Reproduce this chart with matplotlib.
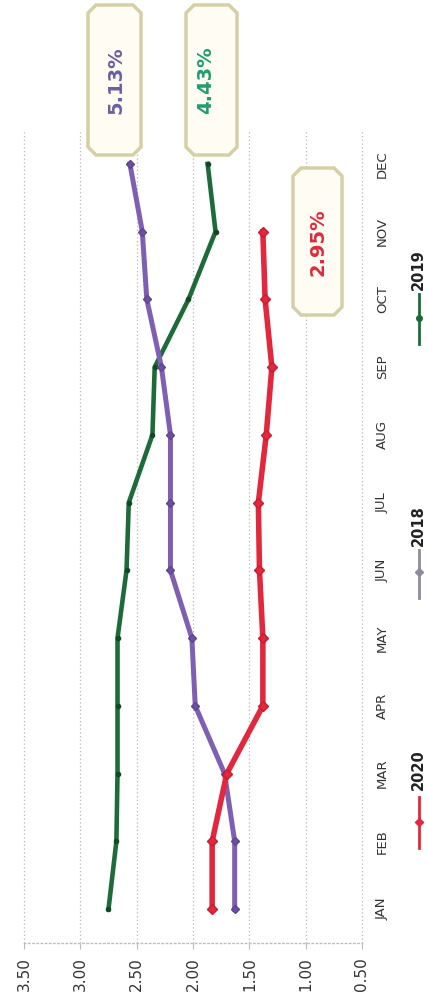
import matplotlib
matplotlib.use("Agg")
import matplotlib.pyplot as plt
from matplotlib.patches import Polygon
from matplotlib.lines import Line2D

# Monthly rates per year
months = ["JAN", "FEB", "MAR", "APR", "MAY", "JUN", "JUL", "AUG", "SEP", "OCT", "NOV", "DEC"]
rate_2018 = [1.63, 1.63, 1.72, 1.98, 2.01, 2.20, 2.20, 2.20, 2.28, 2.41, 2.45, 2.56]
rate_2019 = [2.75, 2.68, 2.67, 2.67, 2.67, 2.59, 2.57, 2.36, 2.34, 2.04, 1.80, 1.87]
rate_2020 = [1.83, 1.83, 1.70, 1.38, 1.38, 1.41, 1.42, 1.35, 1.30, 1.36, 1.38]
value_ticks = [3.50, 3.00, 2.50, 2.00, 1.50, 1.00, 0.50]
years = ["2020", "2018", "2019"]
year_totals = ["2.95%", "5.13%", "4.43%"]

C2018 = "#7f5fb3"
C2019 = "#1d6b38"
C2020 = "#e3283d"

W, H = 428, 1007
fig = plt.figure(figsize=(W / 100, H / 100), dpi=100)


def fx(x):
    return x / W


def fy(y):
    return 1 - y / H


# axes occupy the rotated plot region (values run right-to-left, months bottom-to-top)
ax = fig.add_axes([fx(24), fy(943), fx(362) - fx(24), fy(130) - fy(943)])
ax.set_xlim(3.5, 0.5)
ax.set_ylim(-0.5, 11.5)

ax.plot(rate_2019, range(len(rate_2019)), color=C2019, lw=3.3, marker="o",
        ms=3, mfc="#0f4a22", mec="#0f4a22", zorder=3)
ax.plot(rate_2018, range(len(rate_2018)), color=C2018, lw=3.6, marker="D",
        ms=4, mfc="#6c4fa3", mec="#5e4690", zorder=4)
ax.plot(rate_2020, range(len(rate_2020)), color=C2020, lw=4.0, marker="D",
        ms=5, mfc=C2020, mec="#c81c30", zorder=5)

ax.set_xticks(value_ticks)
ax.set_xticklabels([f"{v:.2f}" for v in value_ticks], rotation=90,
                   fontsize=11, color="#333333")
ax.tick_params(axis="x", length=4, width=0.8, color="#bbbbbb", pad=6)
for lab in ax.get_xticklabels():
    lab.set_verticalalignment("top")

ax.yaxis.tick_right()
ax.set_yticks(range(len(months)))
ax.set_yticklabels(months, rotation=90, fontsize=9.5, color="#333333", va="center")
ax.tick_params(axis="y", length=0, pad=10)

ax.grid(axis="x", color="#b8b8b8", linestyle=(0, (1, 2)), lw=0.9)
for s in ["top", "left", "right"]:
    ax.spines[s].set_visible(False)
ax.spines["bottom"].set_color("#bdbdbd")
ax.spines["bottom"].set_linestyle((0, (1, 2)))
ax.spines["bottom"].set_linewidth(1.0)
for gl in ax.get_xgridlines():
    gl.set_clip_on(False)


def chamfer_box(x0, y0, x1, y1, c=8):
    pts = [(x0 + c, y0), (x1 - c, y0), (x1, y0 + c), (x1, y1 - c),
           (x1 - c, y1), (x0 + c, y1), (x0, y1 - c), (x0, y0 + c)]
    poly = Polygon([(fx(px), fy(py)) for px, py in pts], closed=True,
                   transform=fig.transFigure, facecolor="#fffdf3",
                   edgecolor="#d6cfa6", lw=2.5, zorder=10)
    fig.add_artist(poly)


# yearly total callouts
boxes = [
    (year_totals[1], "#6a5fa8", (88, 5, 141, 155), (116, 80)),
    (year_totals[2], "#1e9e6e", (186, 5, 237, 155), (206, 80)),
    (year_totals[0], "#e02a3c", (293, 168, 342, 315), (318, 242)),
]
for text, tcol, (x0, y0, x1, y1), (tx, ty) in boxes:
    chamfer_box(x0, y0, x1, y1)
    fig.text(fx(tx), fy(ty), text, rotation=90, ha="center", va="center",
             fontsize=14, fontweight="bold", color=tcol, zorder=11)

# legend entries
legend_items = [
    (years[0], C2020, (797, 848), 822, 790, "D"),
    (years[1], "#8c8c9c", (550, 598), 572, 546, "D"),
    (years[2], C2019, (294, 344), 318, 290, "o"),
]
for label, col, (ya, yb), ym, ytext, mk in legend_items:
    fig.add_artist(Line2D([fx(419), fx(419)], [fy(ya), fy(yb)], color=col, lw=2.0,
                          transform=fig.transFigure))
    fig.add_artist(Line2D([fx(419)], [fy(ym)], color=col, marker=mk, ms=4,
                          transform=fig.transFigure))
    fig.text(fx(418), fy(ytext), label, rotation=90, ha="center", va="bottom",
             fontsize=10.5, fontweight="bold", color="#222222")

fig.savefig("out.png", dpi=100, facecolor="white")
